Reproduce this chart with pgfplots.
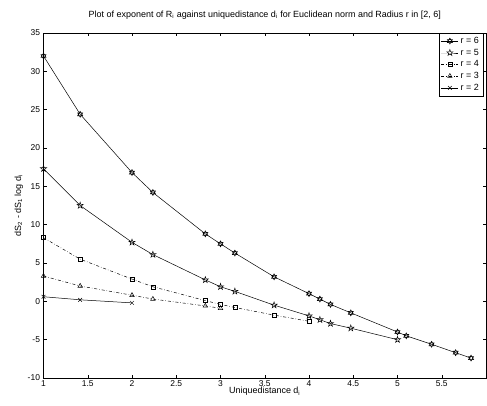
\documentclass[border=0pt]{standalone}
\usepackage{fontspec}
\setmainfont{Liberation Sans}
\usepackage{pgfplots}
\pgfplotsset{compat=1.18}
\pgfdeclareplotmark{pent}{%
 \pgfpathmoveto{\pgfpointpolar{90}{1.25\pgfplotmarksize}}%
 \pgfpathlineto{\pgfpointpolar{126}{0.48\pgfplotmarksize}}%
 \pgfpathlineto{\pgfpointpolar{162}{1.25\pgfplotmarksize}}%
 \pgfpathlineto{\pgfpointpolar{198}{0.48\pgfplotmarksize}}%
 \pgfpathlineto{\pgfpointpolar{234}{1.25\pgfplotmarksize}}%
 \pgfpathlineto{\pgfpointpolar{270}{0.48\pgfplotmarksize}}%
 \pgfpathlineto{\pgfpointpolar{306}{1.25\pgfplotmarksize}}%
 \pgfpathlineto{\pgfpointpolar{342}{0.48\pgfplotmarksize}}%
 \pgfpathlineto{\pgfpointpolar{18}{1.25\pgfplotmarksize}}%
 \pgfpathlineto{\pgfpointpolar{54}{0.48\pgfplotmarksize}}%
 \pgfpathclose\pgfusepathqstroke}
\pgfdeclareplotmark{hexa}{%
 \pgfpathmoveto{\pgfpointpolar{90}{1.15\pgfplotmarksize}}%
 \pgfpathlineto{\pgfpointpolar{210}{1.15\pgfplotmarksize}}%
 \pgfpathlineto{\pgfpointpolar{330}{1.15\pgfplotmarksize}}%
 \pgfpathclose
 \pgfpathmoveto{\pgfpointpolar{270}{1.15\pgfplotmarksize}}%
 \pgfpathlineto{\pgfpointpolar{30}{1.15\pgfplotmarksize}}%
 \pgfpathlineto{\pgfpointpolar{150}{1.15\pgfplotmarksize}}%
 \pgfpathclose\pgfusepathqstroke}
\begin{document}
\begin{tikzpicture}
\begin{axis}[
  scale only axis,
  width=442.5bp, height=345bp,
  xmin=1, xmax=6, ymin=-10, ymax=35,
  xtick={1,1.5,2,2.5,3,3.5,4,4.5,5,5.5},
  ytick={-10,-5,0,5,10,15,20,25,30,35},
  tick align=inside,
  major tick length=3bp,
  axis line style={line width=0.5pt},
  tick style={line width=0.4pt, black},
  /pgf/number format/assume math mode=true,
  ticklabel style={font=\fontsize{8.5}{10}\selectfont},
  xticklabel style={yshift=1bp},
  label style={font=\fontsize{9}{10}\selectfont},
  xlabel={Uniquedistance d\textsubscript{i}},
  ylabel={dS\textsubscript{2} - dS\textsubscript{1} log d\textsubscript{i}},
  xlabel style={yshift=6bp},
  ylabel style={yshift=-2bp},
  title={Plot of exponent of R\textsubscript{i} against uniquedistance d\textsubscript{i} for Euclidean norm and Radius r in [2, 6]},
  title style={font=\fontsize{9}{10}\selectfont, yshift=4bp},
  legend style={at={(1,1)}, anchor=north east, xshift=-3bp, font=\fontsize{9}{11}\selectfont, draw=black, line width=0.4pt, inner sep=2pt},
  legend cell align=left,
  every axis plot/.append style={line width=0.5pt, mark size=2.6bp, mark options={solid}},
]
\addplot[black, mark=hexa] coordinates {
(1,32.0) (1.4142,24.4) (2,16.8) (2.2361,14.2) (2.8284,8.8) (3,7.5) (3.1623,6.3)
(3.6056,3.2) (4,1.0) (4.1231,0.3) (4.2426,-0.4) (4.4721,-1.5) (5,-4.0) (5.0990,-4.5)
(5.3852,-5.6) (5.6569,-6.7) (5.8310,-7.4)};
\addlegendentry{r = 6}
\addplot[black, mark=pent] coordinates {
(1,17.3) (1.4142,12.5) (2,7.7) (2.2361,6.1) (2.8284,2.8) (3,1.9) (3.1623,1.3)
(3.6056,-0.5) (4,-1.9) (4.1231,-2.4) (4.2426,-2.9) (4.4721,-3.5) (5,-5.0)};
\addlegendentry{r = 5}
\addplot[black, mark=square, mark size=2bp, dashdotted] coordinates {
(1,8.3) (1.4142,5.5) (2,2.9) (2.2361,1.9) (2.8284,0.1) (3,-0.4) (3.1623,-0.8)
(3.6056,-1.8) (4,-2.6)};
\addlegendentry{r = 4}
\addplot[black, mark=triangle, dashdotted] coordinates {
(1,3.3) (1.4142,2.0) (2,0.8) (2.2361,0.3) (2.8284,-0.6) (3,-0.9)};
\addlegendentry{r = 3}
\addplot[black, mark=x] coordinates {
(1,0.6) (1.4142,0.2) (2,-0.2)};
\addlegendentry{r = 2}
\end{axis}
\pgfresetboundingbox
\path[use as bounding box] ([xshift=-43.5bp,yshift=-27bp]current axis.south west) rectangle ([xshift=1bp,yshift=33bp]current axis.north east);
\end{tikzpicture}
\end{document}
